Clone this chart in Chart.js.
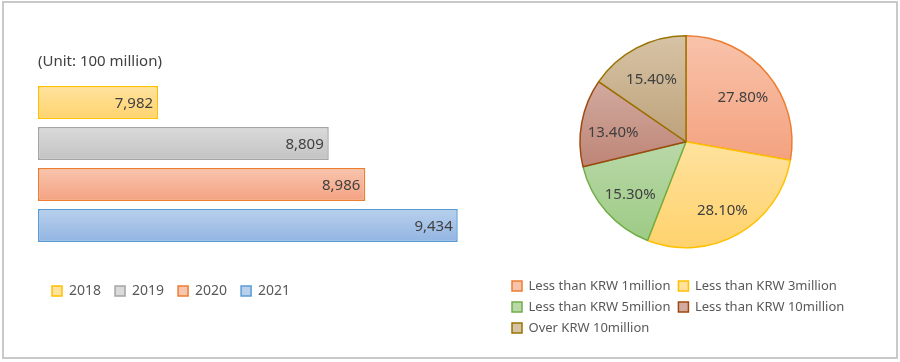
<!DOCTYPE html>
<html>
<head>
<meta charset="utf-8">
<script src="https://cdn.jsdelivr.net/npm/chart.js@4.4.0/dist/chart.umd.min.js"></script>
<style>
  body { margin: 0; background: #fff; }
  #frame { position: absolute; left: 2px; top: 1px; width: 892px; height: 354px; border: 2px solid #c9c9c9; }
  #barWrap { position: absolute; left: 0; top: 0; width: 500px; height: 362px; }
  #pieWrap { position: absolute; left: 500px; top: 0; width: 390px; height: 362px; }
</style>
</head>
<body>
<div id="frame"></div>
<div id="barWrap"><canvas id="barChart"></canvas></div>
<div id="pieWrap"><canvas id="pieChart"></canvas></div>
<script>
// left chart: yearly totals (unit: 100 million)
const years = ['2018', '2019', '2020', '2021'];
const amounts = [7982, 8809, 8986, 9434];
const amountMin = 7400;
const amountMax = 9600;

// right chart: share by bracket (%)
const brackets = ['Less than KRW 1million', 'Less than KRW 3million', 'Less than KRW 5million', 'Less than KRW 10million', 'Over KRW 10million'];
const shares = [27.8, 28.1, 15.3, 13.4, 15.4];

const barColors = [
    { top: '#ffe29e', bottom: '#ffd46f', line: '#ffc000' },
    { top: '#dadada', bottom: '#c3c3c3', line: '#a5a5a5' },
    { top: '#f8c5ae', bottom: '#f4a282', line: '#ed7d31' },
    { top: '#b8d0ec', bottom: '#92b5e2', line: '#5b9bd5' }
];
const pieColors = [
    { top: '#f8c3ab', bottom: '#f4a27f', line: '#ed7d31' },
    { top: '#ffe29e', bottom: '#ffd26c', line: '#ffc000' },
    { top: '#b9d8a8', bottom: '#9dcb85', line: '#70ad47' },
    { top: '#d2aaa0', bottom: '#bd8576', line: '#9e480e' },
    { top: '#d6c3a5', bottom: '#bea27b', line: '#997300' }
];
const pieRadius = 106;

Chart.defaults.font.family = '"Noto Sans", sans-serif';

function barFill(context) {
    const chart = context.chart;
    const y = chart.scales.y;
    const i = context.dataIndex;
    if (!y || i === undefined || !chart.chartArea) return barColors[0].top;
    const c = y.getPixelForValue(i);
    const half = (y.height / years.length) * 0.8 / 2;
    const g = chart.ctx.createLinearGradient(0, c - half, 0, c + half);
    g.addColorStop(0, barColors[i].top);
    g.addColorStop(1, barColors[i].bottom);
    return g;
}

function sliceFill(context) {
    const chart = context.chart;
    const a = chart.chartArea;
    const i = context.dataIndex;
    if (!a || i === undefined) return pieColors[0].top;
    const cx = (a.left + a.right) / 2, cy = (a.top + a.bottom) / 2;
    const total = shares.reduce((s, v) => s + v, 0);
    let before = 0;
    for (let k = 0; k < i; k++) before += shares[k];
    const a0 = -Math.PI / 2 + before / total * 2 * Math.PI;
    const a1 = a0 + shares[i] / total * 2 * Math.PI;
    const ys = [cy, cy + pieRadius * Math.sin(a0), cy + pieRadius * Math.sin(a1)];
    [-Math.PI / 2, Math.PI / 2, 3 * Math.PI / 2].forEach(t => {
        if (t >= a0 && t <= a1) ys.push(cy + pieRadius * Math.sin(t));
    });
    const g = chart.ctx.createLinearGradient(0, Math.min(...ys), 0, Math.max(...ys));
    g.addColorStop(0, pieColors[i].top);
    g.addColorStop(1, pieColors[i].bottom);
    return g;
}

const barLabels = {
    id: 'barLabels',
    afterDatasetsDraw(chart) {
        const ctx = chart.ctx;
        ctx.save();
        ctx.font = '15px "Noto Sans"';
        ctx.fillStyle = '#404040';
        ctx.textAlign = 'right';
        ctx.textBaseline = 'middle';
        chart.getDatasetMeta(0).data.forEach((bar, i) => {
            ctx.fillText(amounts[i].toLocaleString('en-US'), bar.x - 5, bar.y + 1);
        });
        ctx.restore();
    }
};

const pieLabels = {
    id: 'pieLabels',
    afterDatasetsDraw(chart) {
        const ctx = chart.ctx;
        ctx.save();
        ctx.font = '15px "Noto Sans"';
        ctx.fillStyle = '#404040';
        ctx.textAlign = 'center';
        ctx.textBaseline = 'middle';
        chart.getDatasetMeta(0).data.forEach((arc, i) => {
            const p = arc.getProps(['x', 'y', 'startAngle', 'endAngle', 'outerRadius'], true);
            const mid = (p.startAngle + p.endAngle) / 2;
            const d = p.outerRadius * 0.7;
            ctx.fillText(shares[i].toFixed(2) + '%', p.x + Math.cos(mid) * d, p.y + Math.sin(mid) * d + 4);
        });
        ctx.restore();
    }
};

new Chart(document.getElementById('barChart'), {
    type: 'bar',
    data: {
        labels: years,
        datasets: [{
            data: amounts,
            base: amountMin,
            backgroundColor: barFill,
            borderColor: barColors.map(c => c.line),
            borderWidth: 1.5,
            borderSkipped: false,
            barPercentage: 0.8,
            categoryPercentage: 1,
            clip: false
        }]
    },
    options: {
        indexAxis: 'y',
        responsive: true,
        maintainAspectRatio: false,
        animation: false,
        layout: { padding: { left: 38, right: 8, top: 0, bottom: 54 } },
        plugins: {
            title: {
                display: true, text: '(Unit: 100 million)', align: 'start', color: '#404040',
                font: { size: 15, weight: 'normal' }, padding: { top: 53, bottom: 11 }
            },
            legend: {
                position: 'bottom',
                align: 'start',
                labels: {
                    boxWidth: 10, boxHeight: 10, padding: 14, color: '#595959', font: { size: 14 },
                    generateLabels: () => years.map((y, i) => ({
                        text: y, fillStyle: barColors[i].top, strokeStyle: barColors[i].line,
                        lineWidth: 1.5, fontColor: '#595959', index: i
                    }))
                }
            },
            tooltip: { enabled: false }
        },
        scales: {
            x: {
                min: amountMin, max: amountMax,
                ticks: { display: false }, grid: { display: false }, border: { display: false },
                afterFit(scale) { scale.height = 24; }
            },
            y: { display: false }
        }
    },
    plugins: [barLabels]
});

new Chart(document.getElementById('pieChart'), {
    type: 'pie',
    data: {
        labels: brackets,
        datasets: [{
            data: shares,
            backgroundColor: sliceFill,
            borderColor: pieColors.map(c => c.line),
            borderWidth: 1.5
        }]
    },
    options: {
        responsive: true,
        maintainAspectRatio: false,
        animation: false,
        radius: pieRadius,
        layout: { padding: { left: 4, right: 22, top: 12, bottom: 17.5 } },
        plugins: {
            legend: {
                position: 'bottom',
                align: 'start',
                labels: {
                    boxWidth: 10, boxHeight: 10, padding: 8, color: '#595959', font: { size: 13 },
                    generateLabels: () => brackets.map((b, i) => ({
                        text: b, fillStyle: pieColors[i].top, strokeStyle: pieColors[i].line,
                        lineWidth: 1.5, fontColor: '#595959', index: i
                    }))
                }
            },
            tooltip: { enabled: false }
        }
    },
    plugins: [pieLabels]
});
</script>
</body>
</html>
